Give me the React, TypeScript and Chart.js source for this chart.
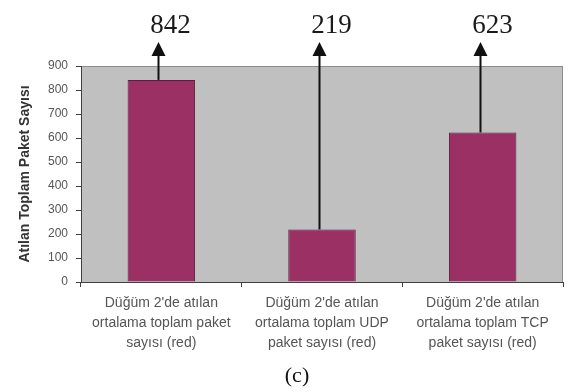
import React, { useEffect, useRef } from "react";
import { Chart, registerables } from "chart.js";

Chart.register(...registerables);

// Categories (multi-line axis labels)
const categories: string[][] = [
  ["Düğüm 2'de atılan", "ortalama toplam paket", "sayısı (red)"],
  ["Düğüm 2'de atılan", "ortalama toplam UDP", "paket sayısı (red)"],
  ["Düğüm 2'de atılan", "ortalama toplam TCP", "paket sayısı (red)"],
];

// Dropped packet counts
const droppedPackets: number[] = [842, 219, 623];

const yAxisTitle = "Atılan Toplam Paket Sayısı";
const caption = "(c)";

// Plot background, arrows with value labels, and the figure caption
const decorPlugin = {
  id: "decor",
  beforeDraw(chart: any) {
    const { ctx, chartArea } = chart;
    const { left, top, right, bottom } = chartArea;
    ctx.save();
    ctx.fillStyle = "#C0C0C0";
    ctx.fillRect(left, top, right - left, bottom - top);
    ctx.strokeStyle = "#8C8C8C";
    ctx.lineWidth = 1;
    ctx.strokeRect(left + 0.5, top + 0.5, right - left - 1, bottom - top);
    ctx.restore();
  },
  afterDraw(chart: any) {
    const { ctx } = chart;
    const meta = chart.getDatasetMeta(0);
    ctx.save();
    meta.data.forEach((bar: any, i: number) => {
      const x = Math.round(bar.x) - 2.5;
      const yTop = bar.y;
      const tipY = 42;
      const baseY = 56;
      // shaft
      ctx.strokeStyle = "#111";
      ctx.lineWidth = 2;
      ctx.beginPath();
      ctx.moveTo(x, yTop);
      ctx.lineTo(x, baseY);
      ctx.stroke();
      // head
      ctx.fillStyle = "#111";
      ctx.beginPath();
      ctx.moveTo(x, tipY);
      ctx.lineTo(x - 7, baseY);
      ctx.lineTo(x + 7, baseY);
      ctx.closePath();
      ctx.fill();
      // value
      ctx.font = "27px 'Liberation Serif', 'Times New Roman', serif";
      ctx.textAlign = "center";
      ctx.textBaseline = "alphabetic";
      ctx.fillStyle = "#1a1a1a";
      ctx.fillText(String(droppedPackets[i]), x + 12, 33);
    });
    // caption
    ctx.font = "22px 'Liberation Serif', 'Times New Roman', serif";
    ctx.textAlign = "center";
    ctx.textBaseline = "middle";
    ctx.fillStyle = "#111";
    ctx.fillText(caption, chart.width / 2 + 3, 376);
    ctx.restore();
  },
};

export default function App() {
  const canvasRef = useRef<HTMLCanvasElement | null>(null);

  useEffect(() => {
    if (!canvasRef.current) return;
    const chart = new Chart(canvasRef.current, {
      type: "bar",
      data: {
        labels: categories,
        datasets: [
          {
            data: droppedPackets,
            backgroundColor: "#9A3064",
            borderColor: "#5C1E3C",
            borderWidth: 1,
            categoryPercentage: 1,
            barPercentage: 0.42,
          },
        ],
      },
      options: {
        responsive: false,
        animation: false,
        devicePixelRatio: 1,
        layout: { padding: { left: 0, right: 25, top: 66, bottom: 0 } },
        plugins: {
          legend: { display: false },
          tooltip: { enabled: false },
          title: { display: false },
        },
        scales: {
          x: {
            afterFit: (scale: any) => {
              scale.height = 110;
            },
            grid: {
              drawOnChartArea: false,
              offset: true,
              tickLength: 5,
              color: "#404040",
            },
            border: { display: true, color: "#404040", width: 1 },
            ticks: {
              padding: 6,
              maxRotation: 0,
              autoSkip: false,
              color: "#555",
              font: { family: "Arial, 'Liberation Sans', sans-serif", size: 14, lineHeight: 20 / 14 },
            },
          },
          y: {
            min: 0,
            max: 900,
            afterFit: (scale: any) => {
              scale.width = 81;
            },
            grid: {
              drawOnChartArea: false,
              tickLength: 5,
              color: "#404040",
            },
            border: { display: true, color: "#404040", width: 1 },
            ticks: {
              stepSize: 100,
              padding: 8,
              color: "#555",
              font: { family: "Arial, 'Liberation Sans', sans-serif", size: 12 },
            },
            title: {
              display: true,
              text: yAxisTitle,
              color: "#333",
              padding: { top: 17, bottom: 0 },
              font: { family: "Arial, 'Liberation Sans', sans-serif", size: 14, weight: "bold" },
            },
          },
        },
      },
      plugins: [decorPlugin],
    });
    return () => chart.destroy();
  }, []);

  return (
    <div style={{ position: "fixed", left: 0, top: 0, width: 588, height: 392, background: "#fff" }}>
      <canvas ref={canvasRef} width={588} height={392} style={{ display: "block" }} />
    </div>
  );
}
